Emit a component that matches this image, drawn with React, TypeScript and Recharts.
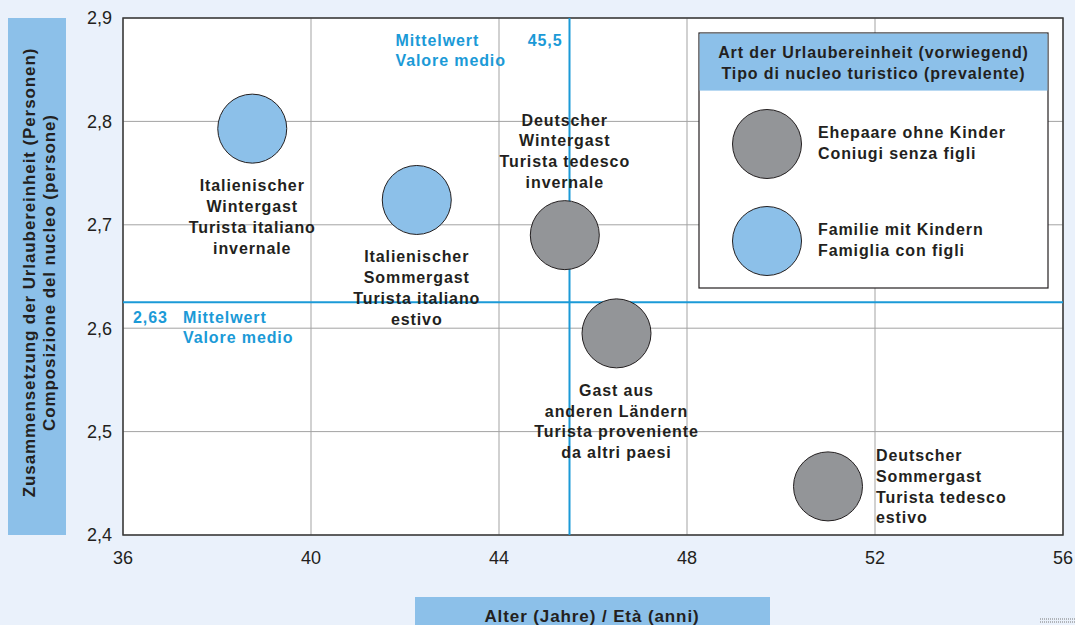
import React from 'react';
import {
  ScatterChart,
  Scatter,
  XAxis,
  YAxis,
  CartesianGrid,
  ReferenceLine,
  ReferenceArea,
  Customized,
  Label,
} from 'recharts';

// ---------- data ----------
const touristLabels: string[][] = [
  ['Italienischer', 'Wintergast', 'Turista italiano', 'invernale'],
  ['Italienischer', 'Sommergast', 'Turista italiano', 'estivo'],
  ['Deutscher', 'Wintergast', 'Turista tedesco', 'invernale'],
  ['Gast aus', 'anderen Ländern', 'Turista proveniente', 'da altri paesi'],
  ['Deutscher', 'Sommergast', 'Turista tedesco', 'estivo'],
];
const ageValues = [38.75, 42.25, 45.4, 46.5, 51.0];
const unitSizeValues = [2.793, 2.724, 2.69, 2.595, 2.447];
const unitTypeIndex = [1, 1, 0, 0, 0];
const unitTypeNames: string[][] = [
  ['Ehepaare ohne Kinder', 'Coniugi senza figli'],
  ['Familie mit Kindern', 'Famiglia con figli'],
];
const meanAge = 45.5;
const meanAgeLabel = '45,5';
const meanUnitSize = 2.625;
const meanUnitSizeLabel = '2,63';
const meanLabel = ['Mittelwert', 'Valore medio'];
const xTicks = [36, 40, 44, 48, 52, 56];
const yTicks = [2.4, 2.5, 2.6, 2.7, 2.8, 2.9];
const xAxisTitle = 'Alter (Jahre) / Età (anni)';
const yAxisTitle = [
  'Zusammensetzung der Urlaubereinheit (Personen)',
  'Composizione del nucleo (persone)',
];
const legendTitle = [
  'Art der Urlaubereinheit (vorwiegend)',
  'Tipo di nucleo turistico (prevalente)',
];

// ---------- styles ----------
const unitTypeColors = ['#939598', '#8cc0e9'];
const labelPlacement = ['below', 'below', 'above', 'below', 'right'];
const FONT = '"Liberation Sans", Arial, Helvetica, sans-serif';
const TEXT = '#231f20';
const MEAN_BLUE = '#1b9ad7';
const BG = '#eaf1fb';
const BOX_BLUE = '#8cc0e9';
const R = 34.5;
const LINE_H = 20.8;

const seriesData = unitTypeNames.map((_, t) =>
  ageValues
    .map((age, i) => ({
      age,
      size: unitSizeValues[i],
      label: touristLabels[i],
      placement: labelPlacement[i],
      type: unitTypeIndex[i],
    }))
    .filter((d) => d.type === t)
);

const fmt = (v: number) => String(v).replace('.', ',');

const Bubble = (props: any) => {
  const { cx, cy, payload, fill } = props;
  if (cx == null || cy == null) return null;
  const lines: string[] = payload.label;
  const place: string = payload.placement;
  let tx = cx;
  let anchor: 'middle' | 'start' = 'middle';
  let y0 = cy + 57;
  if (place === 'above') y0 = cy - 115;
  if (place === 'right') {
    tx = cx + 48;
    anchor = 'start';
    y0 = cy - 31;
  }
  return (
    <g>
      <circle cx={cx} cy={cy} r={R} fill={fill} stroke={TEXT} strokeWidth={1} />
      <text
        textAnchor={anchor}
        fontFamily={FONT}
        fontSize={16}
        fontWeight="bold"
        letterSpacing={0.9}
        fill={TEXT}
      >
        {lines.map((l, i) => (
          <tspan key={i} x={tx} y={y0 + i * LINE_H} dominantBaseline="central">
            {l}
          </tspan>
        ))}
      </text>
    </g>
  );
};

const YTitle = (props: any) => {
  const vb = props.viewBox || { y: 18, height: 517 };
  const cy = vb.y + vb.height / 2 - 4;
  return (
    <g>
      <rect x={8} y={vb.y} width={58} height={vb.height} fill={BOX_BLUE} />
      {yAxisTitle.map((t, i) => (
        <text
          key={i}
          x={29 + i * 20}
          y={cy}
          transform={`rotate(-90 ${29 + i * 20} ${cy})`}
          textAnchor="middle"
          dominantBaseline="central"
          fontFamily={FONT}
          fontSize={17}
          fontWeight="bold"
          letterSpacing={0.9}
          fill={TEXT}
        >
          {t}
        </text>
      ))}
    </g>
  );
};

const XTitle = () => (
  <g>
    <rect x={415} y={597} width={355} height={40} fill={BOX_BLUE} />
    <text
      x={592}
      y={616}
      textAnchor="middle"
      dominantBaseline="central"
      fontFamily={FONT}
      fontSize={17}
      fontWeight="bold"
      letterSpacing={0.9}
      fill={TEXT}
    >
      {xAxisTitle}
    </text>
  </g>
);

const MeanXLabel = (props: any) => {
  const vb = props.viewBox || { x: 569, y: 18 };
  return (
    <g fontFamily={FONT} fontSize={16} fontWeight="bold" letterSpacing={0.9} fill={MEAN_BLUE}>
      <text x={vb.x - 7} y={vb.y + 22} textAnchor="end" dominantBaseline="central">
        {meanAgeLabel}
      </text>
      {meanLabel.map((t, i) => (
        <text key={i} x={vb.x - 174} y={vb.y + 22 + i * 20} dominantBaseline="central">
          {t}
        </text>
      ))}
    </g>
  );
};

const MeanYLabel = (props: any) => {
  const vb = props.viewBox || { x: 123, y: 303 };
  return (
    <g fontFamily={FONT} fontSize={16} fontWeight="bold" letterSpacing={0.9} fill={MEAN_BLUE}>
      <text x={vb.x + 10} y={vb.y + 15} dominantBaseline="central">
        {meanUnitSizeLabel}
      </text>
      {meanLabel.map((t, i) => (
        <text key={i} x={vb.x + 60} y={vb.y + 15 + i * 20} dominantBaseline="central">
          {t}
        </text>
      ))}
    </g>
  );
};

const LegendBox = () => {
  const x = 699;
  const y = 33;
  const w = 349;
  const h = 255;
  return (
    <g fontFamily={FONT} fontSize={16} fontWeight="bold" letterSpacing={0.9} fill={TEXT}>
      <rect x={x} y={y} width={w} height={h} fill="#ffffff" stroke={TEXT} strokeWidth={1.2} />
      <rect x={x + 0.6} y={y + 0.6} width={w - 1.2} height={57} fill={BOX_BLUE} />
      {legendTitle.map((t, i) => (
        <text key={i} x={x + w / 2} y={y + 19 + i * 21} textAnchor="middle" dominantBaseline="central">
          {t}
        </text>
      ))}
      {unitTypeNames.map((names, k) => (
        <g key={k}>
          <circle
            cx={767}
            cy={144 + k * 97}
            r={R}
            fill={unitTypeColors[k]}
            stroke={TEXT}
            strokeWidth={1}
          />
          {names.map((n, i) => (
            <text key={i} x={818} y={132 + k * 97 + i * 21} dominantBaseline="central">
              {n}
            </text>
          ))}
        </g>
      ))}
      <line x1={1040} y1={619} x2={1075} y2={619} stroke="#777" strokeWidth={1} strokeDasharray="1 1" />
      <line x1={1040} y1={622} x2={1075} y2={622} stroke="#777" strokeWidth={1} strokeDasharray="1 1" />
    </g>
  );
};

export default function App() {
  return (
    <div
      style={{
        position: 'absolute',
        left: 0,
        top: 0,
        width: 1075,
        height: 625,
        background: BG,
        overflow: 'hidden',
      }}
    >
      <ScatterChart
        width={1075}
        height={625}
        margin={{ top: 18, right: 12, bottom: 0, left: 0 }}
      >
        <CartesianGrid fill="#ffffff" stroke="#a3a3a3" strokeWidth={1} />
        <XAxis
          type="number"
          dataKey="age"
          domain={[36, 56]}
          ticks={xTicks}
          height={90}
          tickSize={0}
          tickMargin={16}
          tickLine={false}
          axisLine={false}
          tickFormatter={fmt}
          tick={{ fill: TEXT, fontSize: 18, fontFamily: FONT }}
          interval={0}
        >
          <Label content={XTitle} />
        </XAxis>
        <YAxis
          type="number"
          dataKey="size"
          domain={[2.4, 2.9]}
          ticks={yTicks}
          width={123}
          tickSize={0}
          tickMargin={11}
          tickLine={false}
          axisLine={false}
          tickFormatter={fmt}
          tick={{ fill: TEXT, fontSize: 18, fontFamily: FONT }}
          interval={0}
        >
          <Label content={YTitle} />
        </YAxis>
        <ReferenceArea
          x1={36}
          x2={56}
          y1={2.4}
          y2={2.9}
          fill="none"
          fillOpacity={0}
          stroke="#3a3a3a"
          strokeWidth={1.5}
        />
        <ReferenceLine
          x={meanAge}
          stroke={MEAN_BLUE}
          strokeWidth={2}
          label={<MeanXLabel />}
        />
        <ReferenceLine
          y={meanUnitSize}
          stroke={MEAN_BLUE}
          strokeWidth={2}
          label={<MeanYLabel />}
        />
        {seriesData.map((d, t) => (
          <Scatter
            key={t}
            name={unitTypeNames[t].join(' / ')}
            data={d}
            fill={unitTypeColors[t]}
            shape={Bubble}
            isAnimationActive={false}
          />
        ))}
        <Customized component={LegendBox} />
      </ScatterChart>
    </div>
  );
}
